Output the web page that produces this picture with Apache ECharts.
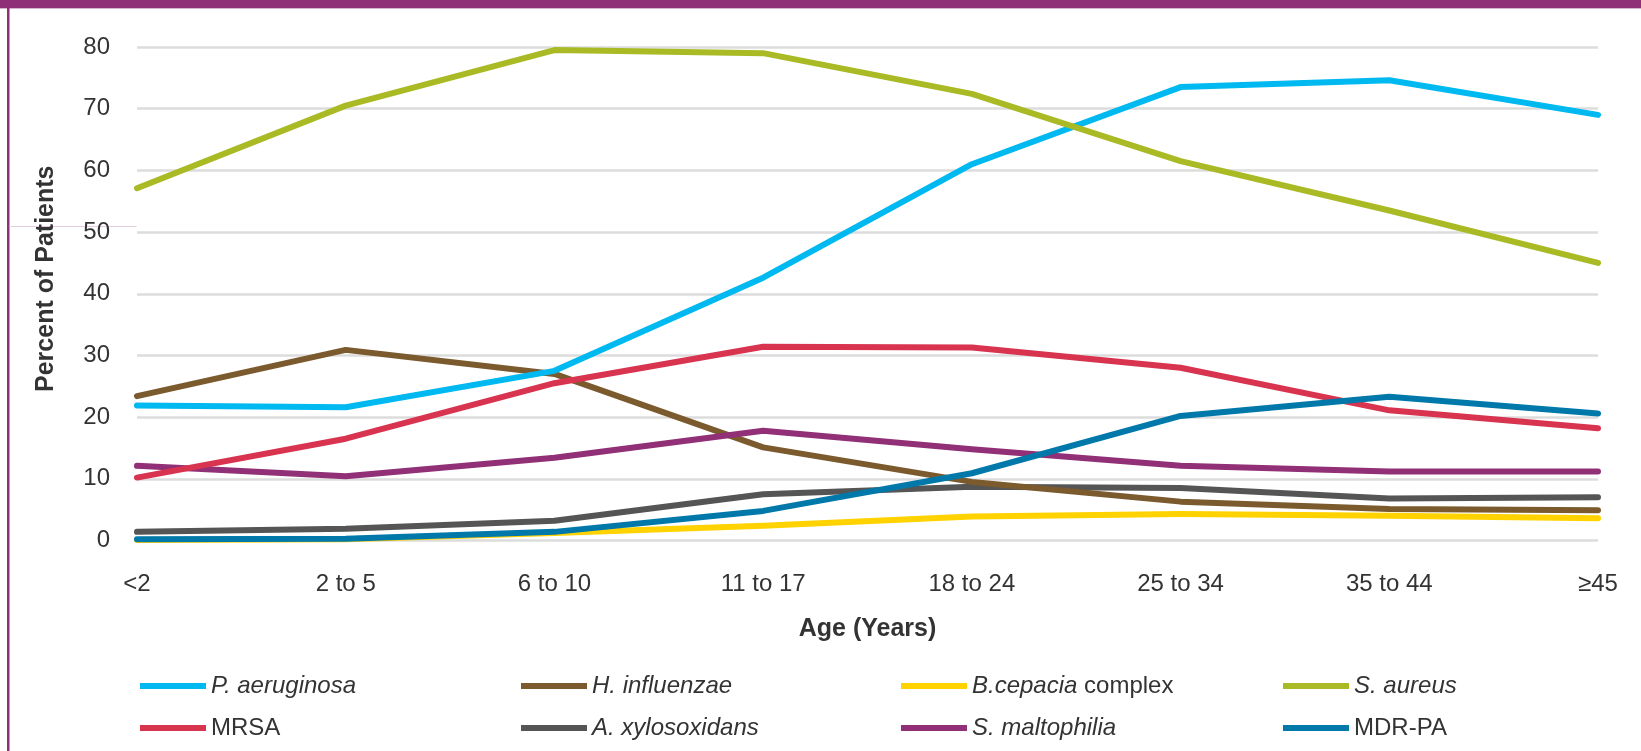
<!DOCTYPE html>
<html>
<head>
<meta charset="utf-8">
<style>
  html, body { margin: 0; padding: 0; background: #ffffff; }
  #chart { width: 1641px; height: 751px; }
</style>
<script src="https://cdn.jsdelivr.net/npm/echarts@6/dist/echarts.min.js"></script>
</head>
<body>
<div id="chart"></div>
<script>
// ---- Data ----
const ageGroups = ['<2', '2 to 5', '6 to 10', '11 to 17', '18 to 24', '25 to 34', '35 to 44', '\u226545'];
const yTicks = [0, 10, 20, 30, 40, 50, 60, 70, 80];

const pAeruginosa    = [21.9, 21.6, 27.5, 42.6, 61.0, 73.5, 74.6, 69.0];
const hInfluenzae    = [23.4, 30.9, 27.0, 15.1, 9.5, 6.3, 5.1, 4.9];
const bCepacia       = [0.1, 0.2, 1.2, 2.4, 3.9, 4.3, 4.0, 3.6];
const sAureus        = [57.1, 70.5, 79.5, 79.0, 72.4, 61.5, 53.5, 45.0];
const mrsa           = [10.2, 16.5, 25.5, 31.4, 31.3, 28.0, 21.1, 18.2];
const aXylosoxidans  = [1.4, 1.9, 3.2, 7.5, 8.7, 8.5, 6.8, 7.0];
const sMaltophilia   = [12.1, 10.4, 13.4, 17.8, 14.8, 12.1, 11.2, 11.2];
const mdrPA          = [0.2, 0.3, 1.4, 4.8, 10.9, 20.2, 23.3, 20.6];

const seriesNames = ['P. aeruginosa', 'H. influenzae', 'B.cepacia complex', 'S. aureus',
                     'MRSA', 'A. xylosoxidans', 'S. maltophilia', 'MDR-PA'];
const legendLabels = ['{i|P. aeruginosa}', '{i|H. influenzae}', '{i|B.cepacia}{n| complex}', '{i|S. aureus}',
                      '{n|MRSA}', '{i|A. xylosoxidans}', '{i|S. maltophilia}', '{n|MDR-PA}'];
const seriesData = [pAeruginosa, hInfluenzae, bCepacia, sAureus, mrsa, aXylosoxidans, sMaltophilia, mdrPA];
const seriesColors = ['#00b9f0', '#7b5a2e', '#ffd200', '#a9ba25', '#d8334f', '#555555', '#913077', '#0079aa'];
// draw order: put the lower-priority lines first
const drawOrder = [2, 5, 1, 6, 4, 7, 0, 3];

// ---- Style / layout ----
const textColor = '#333333';
const fontFamily = '"Liberation Sans", Arial, sans-serif';
const purple = '#8f2f78';
const legendCols = [140, 521, 901, 1283];
const legendRows = [674, 716];

const chart = echarts.init(document.getElementById('chart'), null, { renderer: 'canvas' });

const series = drawOrder.map(function (k) {
  return {
    name: seriesNames[k],
    type: 'line',
    data: seriesData[k],
    symbol: 'none',
    smooth: false,
    lineStyle: { color: seriesColors[k], width: 6, cap: 'round', join: 'round' },
    itemStyle: { color: seriesColors[k] },
    emphasis: { disabled: true }
  };
});

const richStyles = {
  i: { fontStyle: 'italic', fontSize: 24, fontFamily: fontFamily, color: textColor },
  n: { fontStyle: 'normal', fontSize: 24, fontFamily: fontFamily, color: textColor }
};

const legends = seriesNames.map(function (name, k) {
  return {
    data: [{ name: name, icon: 'rect' }],
    left: legendCols[k % 4],
    top: legendRows[Math.floor(k / 4)],
    padding: 0,
    itemWidth: 66,
    itemHeight: 6,
    itemGap: 0,
    selectedMode: false,
    formatter: function () { return legendLabels[k]; },
    textStyle: { fontSize: 24, fontFamily: fontFamily, color: textColor, padding: [0, 0, 0, 0], rich: richStyles }
  };
});

const option = {
  backgroundColor: '#ffffff',
  animation: false,
  grid: { left: 137, right: 43, top: 47, bottom: 210.5, containLabel: false },
  xAxis: {
    type: 'category',
    data: ageGroups,
    boundaryGap: false,
    name: 'Age (Years)',
    nameLocation: 'middle',
    nameGap: 76,
    nameTextStyle: { fontSize: 25, fontWeight: 'bold', fontFamily: fontFamily, color: textColor },
    axisLine: { show: false },
    axisTick: { show: false },
    axisLabel: { fontSize: 24, fontFamily: fontFamily, color: textColor, margin: 32 }
  },
  yAxis: {
    type: 'value',
    min: yTicks[0],
    max: yTicks[yTicks.length - 1],
    interval: 10,
    name: 'Percent of Patients',
    nameLocation: 'middle',
    nameGap: 78,
    nameTextStyle: { fontSize: 25, fontWeight: 'bold', fontFamily: fontFamily, color: textColor, padding: [0, 0, 0, 30] },
    axisLine: { show: false },
    axisTick: { show: false },
    axisLabel: { fontSize: 24, fontFamily: fontFamily, color: textColor, margin: 27 },
    splitLine: { show: true, lineStyle: { color: '#dcdcdc', width: 2.5 } }
  },
  legend: legends,
  series: series,
  graphic: [
    { type: 'rect', left: 0, top: 0, shape: { width: 1641, height: 8 }, style: { fill: purple }, silent: true },
    { type: 'rect', left: 0, top: 8, shape: { width: 1641, height: 1 }, style: { fill: '#d9b3cf' }, silent: true },
    { type: 'rect', left: 7, top: 0, shape: { width: 2.5, height: 751 }, style: { fill: purple }, silent: true },
    { type: 'rect', left: 9.5, top: 226, shape: { width: 127, height: 1 }, style: { fill: '#e3cde0' }, silent: true }
  ]
};

chart.setOption(option);
</script>
</body>
</html>
